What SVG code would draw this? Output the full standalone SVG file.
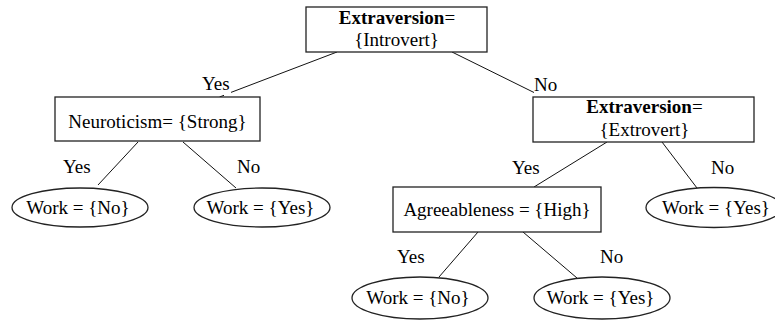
<svg xmlns="http://www.w3.org/2000/svg" width="775" height="322" viewBox="0 0 775 322">
<style>
text{font-size:19px;fill:#000}
.c{text-anchor:middle}
.b{font-weight:bold}
.box{fill:#fff;stroke:#222;stroke-width:1.3}
.edge{stroke:#111;stroke-width:1;fill:none}
</style>
<rect width="775" height="322" fill="#fff"/>
<g font-family="Liberation Serif, Times New Roman, DejaVu Serif, serif">
<g id="connectors">
<path class="edge" d="M337,52 L231,92.4 M224,95.3 L219.5,97"/>
<path class="edge" d="M452,52 L534,92.5"/>
<path class="edge" d="M138,142 L98,185"/>
<path class="edge" d="M183,142 L236,188"/>
<path class="edge" d="M607,142 L534,187"/>
<path class="edge" d="M662,142 L697,188"/>
<path class="edge" d="M478,232 L439,277"/>
<path class="edge" d="M523,232 L577,278"/>
<text x="202" y="90">Yes</text>
<text x="534" y="91">No</text>
<text x="63" y="173">Yes</text>
<text x="237" y="173">No</text>
<text x="512" y="174">Yes</text>
<text x="711" y="174">No</text>
<text x="397" y="263">Yes</text>
<text x="600" y="263">No</text>
</g>
<g id="root">
<rect class="box" x="306" y="7" width="181" height="45"/>
<text class="c" x="397" y="24"><tspan class="b">Extraversion</tspan>=</text>
<text class="c" x="396.5" y="46">{Introvert}</text>
</g>
<g id="neuroticism">
<rect class="box" x="55" y="97" width="205" height="44"/>
<text class="c" x="157.5" y="128">Neuroticism= {Strong}</text>
</g>
<g id="extraversion2">
<rect class="box" x="533" y="97" width="221" height="45"/>
<text class="c" x="644.5" y="113"><tspan class="b">Extraversion</tspan>=</text>
<text class="c" x="644.5" y="136">{Extrovert}</text>
</g>
<g id="agreeableness">
<rect class="box" x="393" y="187" width="208" height="45"/>
<text class="c" x="497" y="216">Agreeableness = {High}</text>
</g>
<g id="leaf1">
<ellipse class="box" cx="80" cy="207.5" rx="68" ry="19.5"/>
<text class="c" x="78" y="214">Work = {No}</text>
</g>
<g id="leaf2">
<ellipse class="box" cx="262" cy="207.5" rx="68" ry="19.5"/>
<text class="c" x="260.5" y="214">Work = {Yes}</text>
</g>
<g id="leaf3">
<ellipse class="box" cx="714" cy="207.5" rx="68" ry="20"/>
<text class="c" x="716" y="214">Work = {Yes}</text>
</g>
<g id="leaf4">
<ellipse class="box" cx="420" cy="298" rx="68" ry="21"/>
<text class="c" x="418" y="304">Work = {No}</text>
</g>
<g id="leaf5">
<ellipse class="box" cx="602" cy="298" rx="68" ry="21"/>
<text class="c" x="600.5" y="304">Work = {Yes}</text>
</g>
</g>
</svg>
